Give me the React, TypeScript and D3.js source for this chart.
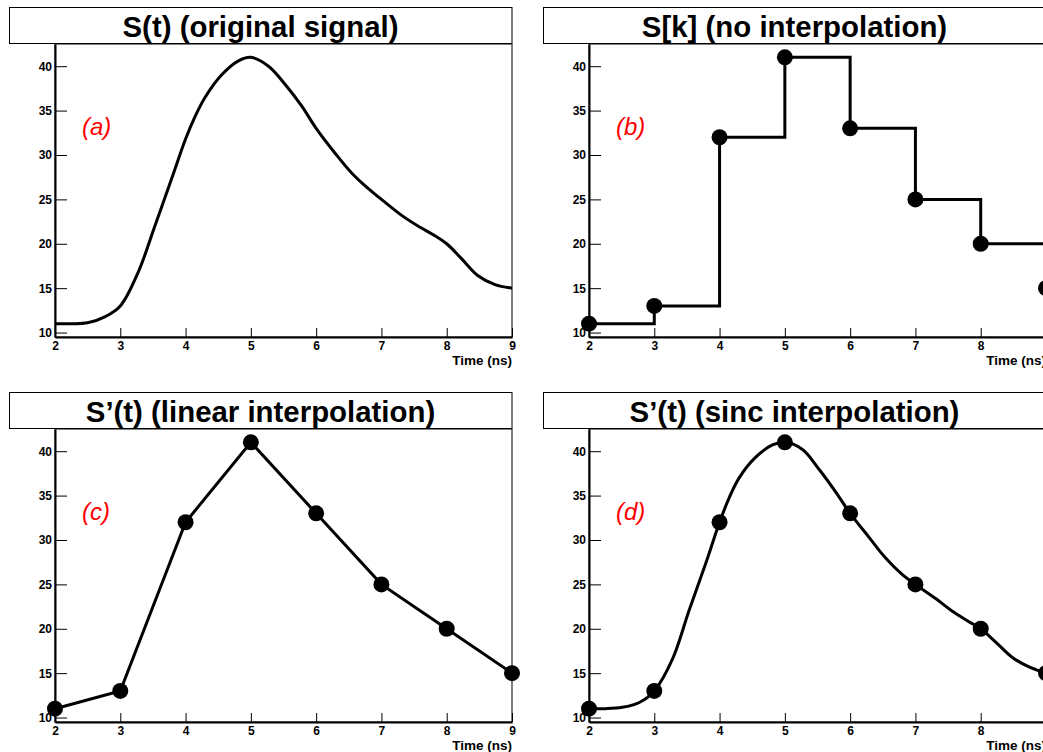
import React, { useEffect, useRef } from 'react';
import * as d3 from 'd3';

// sampled signal S[k]
const sampleTimes = [2, 3, 4, 5, 6, 7, 8, 9];
const sampleValues = [11, 13, 32, 41, 33, 25, 20, 15];

// original continuous signal
const originalTimes = [2, 2.25, 2.5, 2.77, 3.0, 3.28, 3.53, 3.79, 4.0, 4.15, 4.3, 4.55, 4.81, 5.0, 5.27, 5.52, 5.78, 6.0, 6.29, 6.54, 6.8, 7.0, 7.31, 7.56, 7.82, 8.0, 8.23, 8.48, 8.74, 9.0];
const originalValues = [11, 11.0, 11.1, 11.8, 13.0, 16.9, 22.0, 27.4, 31.8, 34.4, 36.5, 39.0, 40.6, 41.0, 40.0, 38.0, 35.5, 33.0, 30.2, 28.0, 26.2, 25.0, 23.2, 22.0, 20.9, 20.0, 18.3, 16.4, 15.4, 15.0];

// sinc reconstruction
const sincTimes = [2, 2.25, 2.51, 2.77, 3.0, 3.28, 3.53, 3.79, 4.0, 4.15, 4.3, 4.55, 4.81, 5.0, 5.27, 5.52, 5.78, 6.0, 6.29, 6.54, 6.8, 7.0, 7.31, 7.56, 7.82, 8.0, 8.23, 8.48, 8.74, 9.0];
const sincValues = [11, 11.0, 11.15, 11.7, 13.0, 16.6, 22.0, 27.4, 32.0, 34.8, 37.0, 39.3, 40.7, 41.0, 40.2, 38.0, 35.4, 33.0, 30.3, 28.0, 26.1, 25.0, 23.4, 22.0, 20.8, 20.0, 18.5, 16.8, 15.7, 15.0];

const xMajor = [2, 3, 4, 5, 6, 7, 8, 9];
const yMajor = [10, 15, 20, 25, 30, 35, 40];

const panels = [
  { ox: 0, oy: 0, title: 'S(t) (original signal)', label: '(a)', mode: 'original' },
  { ox: 534, oy: 0, title: 'S[k] (no interpolation)', label: '(b)', mode: 'step' },
  { ox: 0, oy: 385, title: 'S\u2019(t) (linear interpolation)', label: '(c)', mode: 'linear' },
  { ox: 534, oy: 385, title: 'S\u2019(t) (sinc interpolation)', label: '(d)', mode: 'sinc' },
];

const FONT = 'Liberation Sans, Arial, Helvetica, sans-serif';

const Chart: React.FC = () => {
  const svgRef = useRef<SVGSVGElement>(null);

  useEffect(() => {
    const svg = d3.select(svgRef.current);
    svg.selectAll('*').remove();

    const xMinor = d3.range(2, 9.001, 0.2).filter(v => Math.abs(v - Math.round(v)) > 0.01);
    const yMinor = d3.range(10, 43, 1).filter(v => v % 5 !== 0);

    panels.forEach(p => {
      const g = svg.append('g').attr('transform', `translate(${p.ox},${p.oy})`);

      const x = d3.scaleLinear().domain([2, 9]).range([55, 512]);
      const y = d3.scaleLinear().domain([9.5, 42.5]).range([337, 44]);

      // frame
      g.append('rect')
        .attr('x', 55).attr('y', 44)
        .attr('width', 457).attr('height', 293)
        .attr('fill', 'white').attr('stroke', 'black').attr('stroke-width', 1);

      // title box
      g.append('rect')
        .attr('x', 9.5).attr('y', 7.5)
        .attr('width', 502.5).attr('height', 36)
        .attr('fill', 'white').attr('stroke', 'black').attr('stroke-width', 1);
      g.append('text')
        .attr('x', 260.5).attr('y', 37)
        .attr('text-anchor', 'middle')
        .attr('font-family', FONT).attr('font-weight', 'bold').attr('font-size', 29.4)
        .text(p.title);

      // x axis
      const xa = g.append('g').attr('transform', 'translate(0,337)');
      xa.call(d3.axisBottom(x).tickValues(xMinor).tickSize(-4.5).tickSizeOuter(0).tickFormat(() => ''));
      xa.call(d3.axisBottom(x).tickValues(xMajor).tickSize(-9).tickSizeOuter(0).tickPadding(4).tickFormat(d3.format('d')));
      xa.selectAll('.domain').attr('stroke-width', 2);
      xa.selectAll('text')
        .attr('font-family', FONT).attr('font-weight', 'bold').attr('font-size', 12).attr('fill', '#000');

      // y axis
      const ya = g.append('g').attr('transform', 'translate(55,0)');
      ya.call(d3.axisLeft(y).tickValues(yMinor).tickSize(-6).tickSizeOuter(0).tickFormat(() => ''));
      ya.call(d3.axisLeft(y).tickValues(yMajor).tickSize(-12).tickSizeOuter(0).tickPadding(3).tickFormat(d3.format('d')));
      ya.selectAll('.domain').attr('stroke-width', 2);
      ya.selectAll('text')
        .attr('font-family', FONT).attr('font-weight', 'bold').attr('font-size', 12).attr('fill', '#000');

      // axis title
      g.append('text')
        .attr('x', 512).attr('y', 365)
        .attr('text-anchor', 'end')
        .attr('font-family', FONT).attr('font-weight', 'bold').attr('font-size', 13.5)
        .text('Time (ns)');

      // panel label
      g.append('text')
        .attr('x', 82).attr('y', 135)
        .attr('font-family', FONT).attr('font-style', 'italic').attr('font-size', 24)
        .attr('fill', '#ff0000')
        .text(p.label);

      const samples = sampleTimes.map((t, i) => [t, sampleValues[i]] as [number, number]);

      if (p.mode === 'original' || p.mode === 'sinc') {
        const ts = p.mode === 'original' ? originalTimes : sincTimes;
        const vs = p.mode === 'original' ? originalValues : sincValues;
        const pts = ts.map((t, i) => [t, vs[i]] as [number, number]);
        const line = d3.line<[number, number]>()
          .x(d => x(d[0])).y(d => y(d[1]))
          .curve(d3.curveCatmullRom.alpha(0.5));
        g.append('path').attr('d', line(pts))
          .attr('fill', 'none').attr('stroke', 'black').attr('stroke-width', 3);
      } else {
        const line = d3.line<[number, number]>()
          .x(d => x(d[0])).y(d => y(d[1]))
          .curve(p.mode === 'step' ? d3.curveStepAfter : d3.curveLinear);
        g.append('path').attr('d', line(samples))
          .attr('fill', 'none').attr('stroke', 'black').attr('stroke-width', 3)
          .attr('stroke-linejoin', 'miter');
      }

      if (p.mode !== 'original') {
        g.selectAll('circle.pt')
          .data(samples)
          .enter()
          .append('circle')
          .attr('class', 'pt')
          .attr('cx', d => x(d[0]))
          .attr('cy', d => y(d[1]))
          .attr('r', 8)
          .attr('fill', 'black');
      }
    });
  }, []);

  return (
    <svg
      ref={svgRef}
      width={1043}
      height={752}
      style={{ position: 'absolute', left: 0, top: 0, display: 'block', background: 'white' }}
    ></svg>
  );
};

const App: React.FC = () => {
  return <Chart />;
};

export default App;
